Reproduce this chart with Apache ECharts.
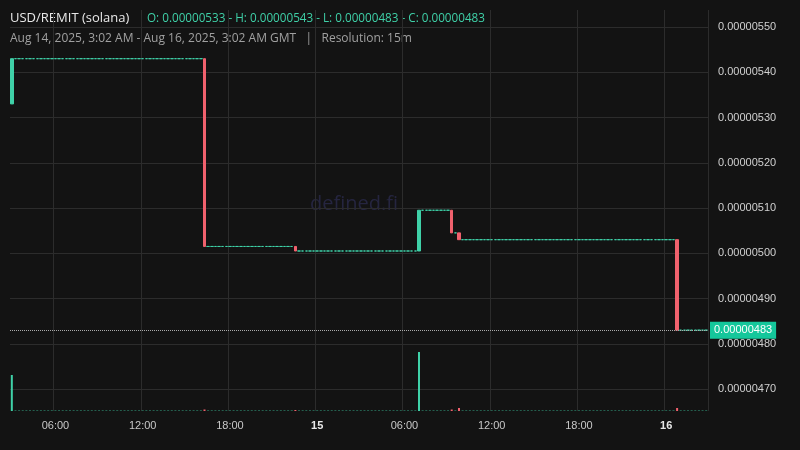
<!DOCTYPE html><html><head><meta charset="utf-8">
<script src="https://cdn.jsdelivr.net/npm/echarts@6/dist/echarts.min.js"></script>
<style>body{margin:0;background:#131313}#c{width:800px;height:450px}</style></head><body><div id="c"></div>
<script>
// price events: [candleIndex, open, close] (units of 1e-8); price stays flat between events
const priceEvents=[[0,533,543],[53,543,501.5],[78,501.5,500.5],[112,500.5,509.5],[121,509.5,504.5],[123,504.5,503],[183,503,483]];
const volumeEvents=[[0,36],[53,1.5],[78,1],[112,59],[121,1.5],[123,3],[183,3]];
const tickLabels={12:'06:00',36:'12:00',60:'18:00',84:'15',108:'06:00',132:'12:00',156:'18:00',180:'16'};
const N=192;
const cats=[],candles=[],vols=[];
let p=533;
for(let i=0;i<N;i++){cats.push(i);
 const e=priceEvents.find(x=>x[0]===i);
 if(e){candles.push([e[1],e[2],Math.min(e[1],e[2]),Math.max(e[1],e[2])]);p=e[2];}
 else candles.push([p,p,p,p]);
 const v=volumeEvents.find(x=>x[0]===i);
 vols.push({value:v?v[1]:0.4,itemStyle:{color:(e&&e[2]<e[1])?'#f0616d':'#3fd1a8'}});
}
const ch=echarts.init(document.getElementById('c'));
ch.setOption({backgroundColor:'#131313',animation:false,
graphic:[{type:'text',left:10,top:12,style:{text:'USD/REMIT (solana)',fill:'#e8e8e8',font:'13px "Open Sans"'}},
{type:'text',left:147,top:13,style:{text:'O: 0.00000533 - H: 0.00000543 - L: 0.00000483 - C: 0.00000483',fill:'#3fd1a8',font:'11.7px "Open Sans"'}},
{type:'text',left:10,top:33,style:{text:'Aug 14, 2025, 3:02 AM - Aug 16, 2025, 3:02 AM GMT   |   Resolution: 15m',fill:'#a0a0a0',font:'12px "Open Sans"'}},
{type:'text',left:310,top:194,style:{text:'defined.fi',fill:'rgba(60,60,120,0.45)',font:'20px "Open Sans"'}}],
grid:[{left:10,right:92,top:27,height:362},{left:10,right:92,top:10,height:401}],
xAxis:[{type:'category',data:cats,gridIndex:0,show:false,boundaryGap:true},
{type:'category',data:cats,gridIndex:1,boundaryGap:true,axisLine:{show:false},axisTick:{show:false},
 axisLabel:{interval:i=>tickLabels[i]!==undefined,formatter:(v,i)=>{const t=tickLabels[i];return (t==='15'||t==='16')?'{b|'+t+'}':t;},color:'#c8c8c8',fontSize:11,margin:9,rich:{b:{fontWeight:'bold',color:'#e8e8e8',fontSize:11}}},
 splitLine:{show:true,interval:i=>tickLabels[i]!==undefined,lineStyle:{color:'#2c2c2c'}}}],
yAxis:[{type:'value',gridIndex:0,position:'right',offset:4,min:470,max:550,interval:10,axisLine:{show:false},axisTick:{show:false},
 axisLabel:{formatter:v=>'0.00000'+v,color:'#d0d0d0',fontSize:11,margin:6},splitLine:{lineStyle:{color:'#2c2c2c'}}},
{type:'value',gridIndex:1,min:0,max:401,show:false,splitLine:{show:false}}],
series:[{type:'bar',xAxisIndex:1,yAxisIndex:1,data:vols,barWidth:2},
{type:'candlestick',xAxisIndex:0,yAxisIndex:0,data:candles,barWidth:3,
 itemStyle:{color:'#3fd1a8',color0:'#f0616d',borderColor:'#3fd1a8',borderColor0:'#f0616d',borderColorDoji:'#3fd1a8',borderWidth:1},
 markLine:{symbol:'none',silent:true,data:[{yAxis:483}],lineStyle:{color:'#aaa',type:'dotted',width:1},
  label:{position:'end',formatter:'0.00000483',backgroundColor:'#14c79b',color:'#fff',padding:[3,4],fontSize:11,distance:2}}}]
});
</script></body></html>
